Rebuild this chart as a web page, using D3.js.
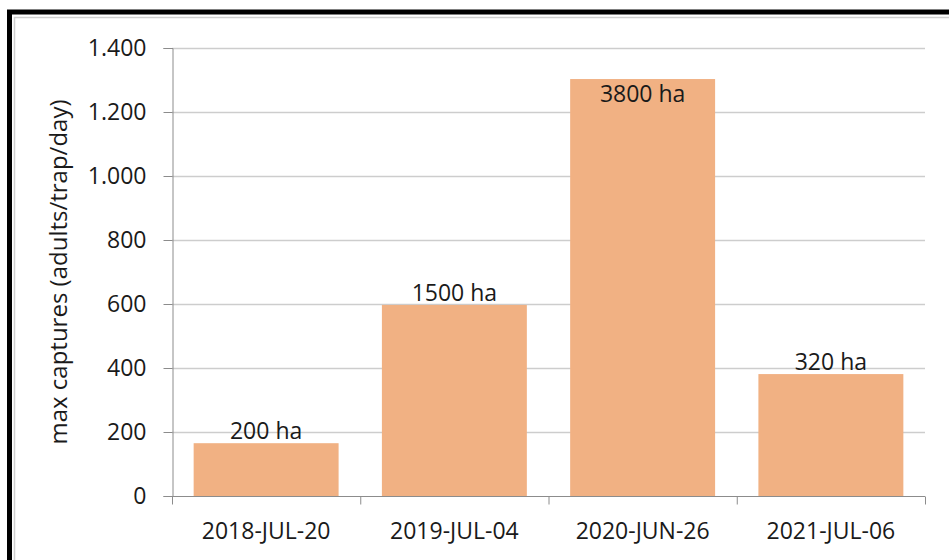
<!DOCTYPE html>
<html>
<head>
<meta charset="utf-8">
<script src="https://cdn.jsdelivr.net/npm/d3@7"></script>
<style>
  html, body { margin: 0; padding: 0; background: #fff; }
  svg { display: block; font-family: "Open Sans", sans-serif; }
</style>
</head>
<body>
<svg id="chart" width="949" height="560"></svg>
<script>
// data
var categories = ['2018-JUL-20', '2019-JUL-04', '2020-JUN-26', '2021-JUL-06']
var captures = [165, 597, 1303, 381]
var areaLabels = ['200 ha', '1500 ha', '3800 ha', '320 ha']
var labelPlace = ['out', 'out', 'in', 'out']
var yTicks = [0, 200, 400, 600, 800, 1000, 1200, 1400]
var yLabel = 'max captures (adults/trap/day)'

var W = 949, H = 560
var plot = {left: 172, right: 925, top: 48, bottom: 496}

var svg = d3.select('#chart')

// frame: thick black outer line, light grey inner line
svg.append('path')
    .attr('d', `M9.5,${H} V12 H${W}`)
    .attr('fill', 'none')
    .attr('stroke', '#000')
    .attr('stroke-width', 5)
svg.append('path')
    .attr('d', `M14.5,${H} V17.5 H${W}`)
    .attr('fill', 'none')
    .attr('stroke', '#cfcfcf')
    .attr('stroke-width', 1.5)

var x = d3.scaleBand()
    .domain(categories)
    .range([plot.left, plot.right])
    .paddingInner(0.23)
    .paddingOuter(0.115)

var y = d3.scaleLinear()
    .domain([0, 1400])
    .range([plot.bottom, plot.top])

var fmt = d3.formatLocale({decimal: ',', thousands: '.', grouping: [3], currency: ['', '']}).format(',d')

// gridlines
svg.append('g')
    .selectAll('line')
    .data(yTicks.filter(d => d > 0))
    .join('line')
    .attr('x1', plot.left)
    .attr('x2', plot.right)
    .attr('y1', d => Math.round(y(d)) + 0.5)
    .attr('y2', d => Math.round(y(d)) + 0.5)
    .attr('stroke', '#cdcdcd')
    .attr('stroke-width', 1.3)

// bars
svg.append('g')
    .selectAll('rect')
    .data(captures)
    .join('rect')
    .attr('x', (d, i) => x(categories[i]))
    .attr('width', x.bandwidth())
    .attr('y', d => y(d))
    .attr('height', d => y(0) - y(d))
    .attr('fill', '#f1b183')

// y axis with minor ticks
var yAxis = svg.append('g').attr('transform', `translate(${plot.left + 0.5},0)`)
yAxis.call(d3.axisLeft(y).tickValues(d3.range(0, 1401, 50)).tickSize(7).tickFormat(''))
yAxis.call(d3.axisLeft(y).tickValues(yTicks).tickSize(9).tickPadding(17).tickFormat(fmt))
yAxis.selectAll('.domain').attr('stroke', '#8c8c8c')
yAxis.selectAll('.tick line').attr('stroke', '#8c8c8c')
yAxis.selectAll('.tick text')
    .attr('fill', '#1a1a1a')
    .style('font-size', '23px')
    .style('font-family', '"Open Sans", sans-serif')

// x axis, ticks between categories
var xAxis = svg.append('g').attr('transform', `translate(0,${plot.bottom + 0.5})`)
xAxis.append('line')
    .attr('x1', plot.left)
    .attr('x2', plot.right)
    .attr('stroke', '#8c8c8c')
var step = x.step()
xAxis.selectAll('line.sep')
    .data(d3.range(categories.length + 1))
    .join('line')
    .attr('class', 'sep')
    .attr('x1', i => plot.left + i * step + 0.5)
    .attr('x2', i => plot.left + i * step + 0.5)
    .attr('y1', 0)
    .attr('y2', 8)
    .attr('stroke', '#8c8c8c')
xAxis.selectAll('text')
    .data(categories)
    .join('text')
    .attr('x', d => x(d) + x.bandwidth() / 2)
    .attr('y', 42)
    .attr('text-anchor', 'middle')
    .attr('fill', '#1a1a1a')
    .style('font-size', '23px')
    .text(d => d)

// data labels
svg.append('g')
    .selectAll('text')
    .data(captures)
    .join('text')
    .attr('x', (d, i) => x(categories[i]) + x.bandwidth() / 2)
    .attr('y', (d, i) => labelPlace[i] === 'in' ? y(d) + 23 : y(d) - 4)
    .attr('text-anchor', 'middle')
    .attr('fill', '#1a1a1a')
    .style('font-size', '23px')
    .text((d, i) => areaLabels[i])

// y axis title
svg.append('text')
    .attr('transform', 'translate(67,272) rotate(-90)')
    .attr('text-anchor', 'middle')
    .attr('fill', '#1a1a1a')
    .style('font-size', '24px')
    .text(yLabel)
</script>
</body>
</html>
